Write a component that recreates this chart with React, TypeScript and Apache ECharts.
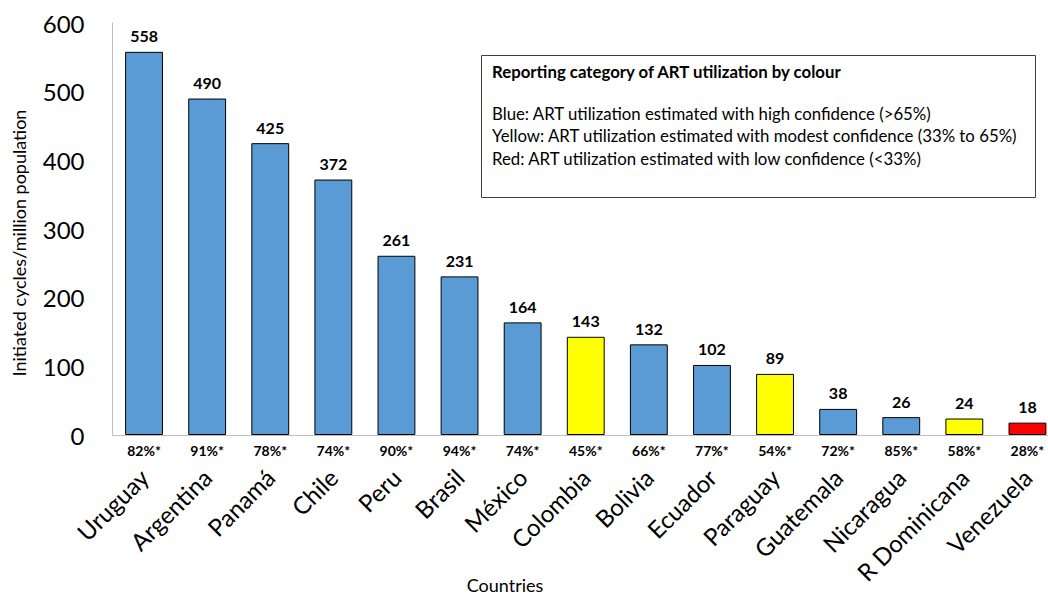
import React, { useEffect, useRef } from "react";
import * as echarts from "echarts";

const countries = ["Uruguay", "Argentina", "Panamá", "Chile", "Peru", "Brasil", "México", "Colombia", "Bolivia", "Ecuador", "Paraguay", "Guatemala", "Nicaragua", "R Dominicana", "Venezuela"];
const cycles = [558, 490, 425, 372, 261, 231, 164, 143, 132, 102, 89, 38, 26, 24, 18];
const utilization = ["82%*", "91%*", "78%*", "74%*", "90%*", "94%*", "74%*", "45%*", "66%*", "77%*", "54%*", "72%*", "85%*", "58%*", "28%*"];
const confidence = ["high", "high", "high", "high", "high", "high", "high", "modest", "high", "high", "modest", "high", "high", "modest", "low"];
const yTicks = [0, 100, 200, 300, 400, 500, 600];

const confColor: Record<string, string> = { high: "#5B9BD5", modest: "#FFFF00", low: "#FF0000" };
const FONT = "Lato";

export default function App() {
  const ref = useRef<HTMLDivElement>(null);
  useEffect(() => {
    if (!ref.current) return;
    const chart = echarts.init(ref.current, undefined, { renderer: "svg" });
    chart.setOption({
      animation: false,
      textStyle: { fontFamily: FONT },
      grid: { left: 112.5, right: -11, top: 23, bottom: 161, containLabel: false, outerBoundsMode: "none" },
      xAxis: [
        {
          type: "category",
          data: countries,
          axisLine: { lineStyle: { color: "#BFBFBF", width: 1 } },
          axisTick: { show: false },
          axisLabel: { rotate: 45, fontSize: 24, color: "#000", margin: 38, fontFamily: FONT },
        },
        {
          type: "category",
          data: utilization,
          position: "bottom",
          axisLine: { show: false },
          axisTick: { show: false },
          axisLabel: { fontSize: 14, fontWeight: "bold", color: "#000", margin: 8, fontFamily: FONT },
        },
      ],
      yAxis: {
        type: "value",
        min: yTicks[0],
        max: yTicks[yTicks.length - 1],
        interval: 100,
        axisLine: { show: true, lineStyle: { color: "#BFBFBF", width: 1 } },
        axisTick: { show: false },
        splitLine: { show: false },
        axisLabel: { fontSize: 24, color: "#000", margin: 28, fontFamily: FONT },
      },
      series: [
        {
          type: "bar",
          xAxisIndex: 0,
          barWidth: "60%",
          data: cycles.map((v, i) => ({ value: v, itemStyle: { color: confColor[confidence[i]] } })),
          itemStyle: { borderColor: "#000", borderWidth: 1 },
          label: { show: true, position: "top", distance: 8, fontSize: 16, fontWeight: "bold", color: "#000", fontFamily: FONT },
        },
      ],
      graphic: [
        {
          type: "text",
          x: 19, y: 243,
          rotation: Math.PI / 2,
          style: { text: "Initiated cycles/million population", font: `18px ${FONT}`, fill: "#000", align: "center", verticalAlign: "middle" },
        },
        {
          type: "text",
          x: 505, y: 585,
          style: { text: "Countries", font: `18px ${FONT}`, fill: "#000", align: "center", verticalAlign: "middle" },
        },
        {
          type: "rect",
          shape: { x: 481.5, y: 55.5, width: 554, height: 142 },
          style: { fill: "#fff", stroke: "#404040", lineWidth: 1 },
        },
        {
          type: "text",
          x: 492, y: 63,
          style: { text: "Reporting category of ART utilization by colour", font: `bold 16.8px ${FONT}`, fill: "#000" },
        },
        {
          type: "text",
          x: 492, y: 102,
          style: {
            text: "Blue: ART utilization estimated with high confidence (>65%)\nYellow: ART utilization estimated with modest confidence (33% to 65%)\nRed: ART utilization estimated with low confidence (<33%)",
            font: `16.8px ${FONT}`, lineHeight: 22.5, fill: "#000",
          },
        },
      ],
    });
    return () => chart.dispose();
  }, []);
  return <div ref={ref} style={{ width: 1048, height: 596, position: "absolute", left: 0, top: 0 }} />;
}
